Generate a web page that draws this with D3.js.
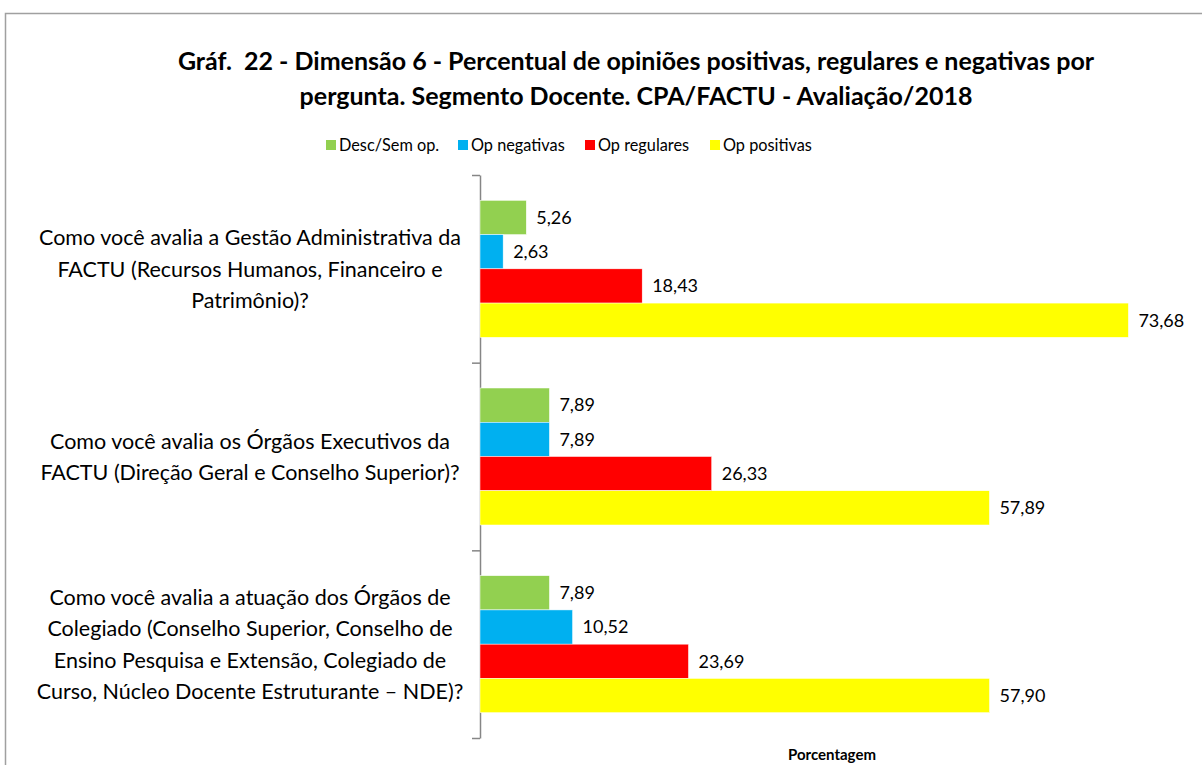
<!DOCTYPE html>
<html>
<head>
<meta charset="utf-8">
<script src="https://cdn.jsdelivr.net/npm/d3@7"></script>
<style>
  body { margin: 0; background: #fff; }
  text { font-family: Lato, "Open Sans", sans-serif; fill: #000; white-space: pre; }
</style>
</head>
<body>
<div id="chart"></div>
<script>
// Data
var titleLines = [
  "Gráf.  22 - Dimensão 6 - Percentual de opiniões positivas, regulares e negativas por",
  "pergunta. Segmento Docente. CPA/FACTU - Avaliação/2018"
];
var questions = [
  ["Como você avalia a Gestão Administrativa da", "FACTU (Recursos Humanos, Financeiro e", "Patrimônio)?"],
  ["Como você avalia os Órgãos Executivos da", "FACTU (Direção Geral e Conselho Superior)?"],
  ["Como você avalia a atuação dos Órgãos de", "Colegiado (Conselho Superior, Conselho de", "Ensino Pesquisa e Extensão, Colegiado de", "Curso, Núcleo Docente Estruturante – NDE)?"]
];
var seriesNames = ["Desc/Sem op.", "Op negativas", "Op regulares", "Op positivas"];
var seriesColors = ["#92d050", "#00b0f0", "#ff0000", "#ffff00"];
var descSemOp   = [5.26, 7.89, 7.89];
var opNegativas = [2.63, 7.89, 10.52];
var opRegulares = [18.43, 26.33, 23.69];
var opPositivas = [73.68, 57.89, 57.90];
var xAxisTitle = "Porcentagem";

var width = 1202, height = 765;
var seriesValues = [descSemOp, opNegativas, opRegulares, opPositivas];

var svg = d3.select("#chart").append("svg")
    .attr("width", width)
    .attr("height", height);

// outer chart border
svg.append("rect")
    .attr("x", 5.5).attr("y", 13.5)
    .attr("width", 1300).attr("height", 900)
    .attr("fill", "none")
    .attr("stroke", "#a0a0a0")
    .attr("stroke-width", 1.5);

// title
svg.append("g").selectAll("text")
  .data(titleLines)
  .enter().append("text")
    .attr("x", 636)
    .attr("y", function(d, i) { return 70 + i * 35; })
    .attr("text-anchor", "middle")
    .style("font-size", "25px")
    .style("font-weight", "bold")
    .text(function(d) { return d; });

// scales
var qIdx = questions.map(function(d, i) { return i; });
var x = d3.scaleLinear().domain([0, 80]).range([480, 1184]);
var y = d3.scaleBand().domain(qIdx).range([175, 738]);
var ySub = d3.scaleBand().domain(seriesNames)
    .range([0, y.bandwidth()])
    .paddingOuter(0.74);

// legend
var legendX = [326, 458, 585, 710];
var legend = svg.append("g").selectAll("g")
  .data(seriesNames)
  .enter().append("g")
    .attr("transform", function(d, i) { return "translate(" + legendX[i] + ",140)"; });
legend.append("rect")
    .attr("width", 10).attr("height", 10)
    .attr("fill", function(d, i) { return seriesColors[i]; });
legend.append("text")
    .attr("x", 13).attr("y", 11)
    .style("font-size", "16.3px")
    .text(function(d) { return d; });

// left axis with ticks on band boundaries
var yEdges = d3.scaleLinear().domain([0, questions.length]).range([175, 738]);
var yAxis = svg.append("g")
    .attr("transform", "translate(480,0)")
    .call(d3.axisLeft(yEdges).ticks(questions.length).tickFormat("").tickSize(8).tickSizeOuter(0));
yAxis.select(".domain").attr("stroke", "#868686").attr("stroke-width", 1.5);
yAxis.selectAll(".tick line").attr("stroke", "#868686").attr("stroke-width", 1.5);

// category labels (centred block left of the axis)
var catLabels = svg.append("g").selectAll("text")
  .data(questions)
  .enter().append("text")
    .attr("text-anchor", "middle")
    .style("font-size", "21.5px");
catLabels.each(function(lines, i) {
  var cy = y(i) + y.bandwidth() / 2;
  var lh = 31.5;
  var top = cy - (lines.length - 1) * lh / 2;
  d3.select(this).selectAll("tspan")
    .data(lines)
    .enter().append("tspan")
      .attr("x", 250)
      .attr("y", function(d, j) { return top + j * lh + 8; })
      .text(function(d) { return d; });
});

// bars
var groups = svg.append("g").selectAll("g")
  .data(qIdx)
  .enter().append("g")
    .attr("transform", function(i) { return "translate(0," + y(i) + ")"; });

var cells = groups.selectAll("g")
  .data(function(i) {
    return seriesNames.map(function(s, k) {
      return {series: s, color: seriesColors[k], value: seriesValues[k][i]};
    });
  })
  .enter().append("g");

cells.append("rect")
    .attr("x", x(0))
    .attr("y", function(d) { return ySub(d.series); })
    .attr("width", function(d) { return x(d.value) - x(0); })
    .attr("height", ySub.bandwidth())
    .attr("fill", function(d) { return d.color; })
    .attr("stroke", "#fff")
    .attr("stroke-width", 0.5);

cells.append("text")
    .attr("x", function(d) { return x(d.value) + 10; })
    .attr("y", function(d) { return ySub(d.series) + ySub.bandwidth() / 2; })
    .attr("dy", "0.35em")
    .style("font-size", "18px")
    .text(function(d) { return d.value.toFixed(2).replace(".", ","); });

// x axis title (axis itself hidden in the original)
svg.append("text")
    .attr("x", (x.range()[0] + x.range()[1]) / 2)
    .attr("y", 760)
    .attr("text-anchor", "middle")
    .style("font-size", "15px")
    .style("font-weight", "bold")
    .text(xAxisTitle);
</script>
</body>
</html>
